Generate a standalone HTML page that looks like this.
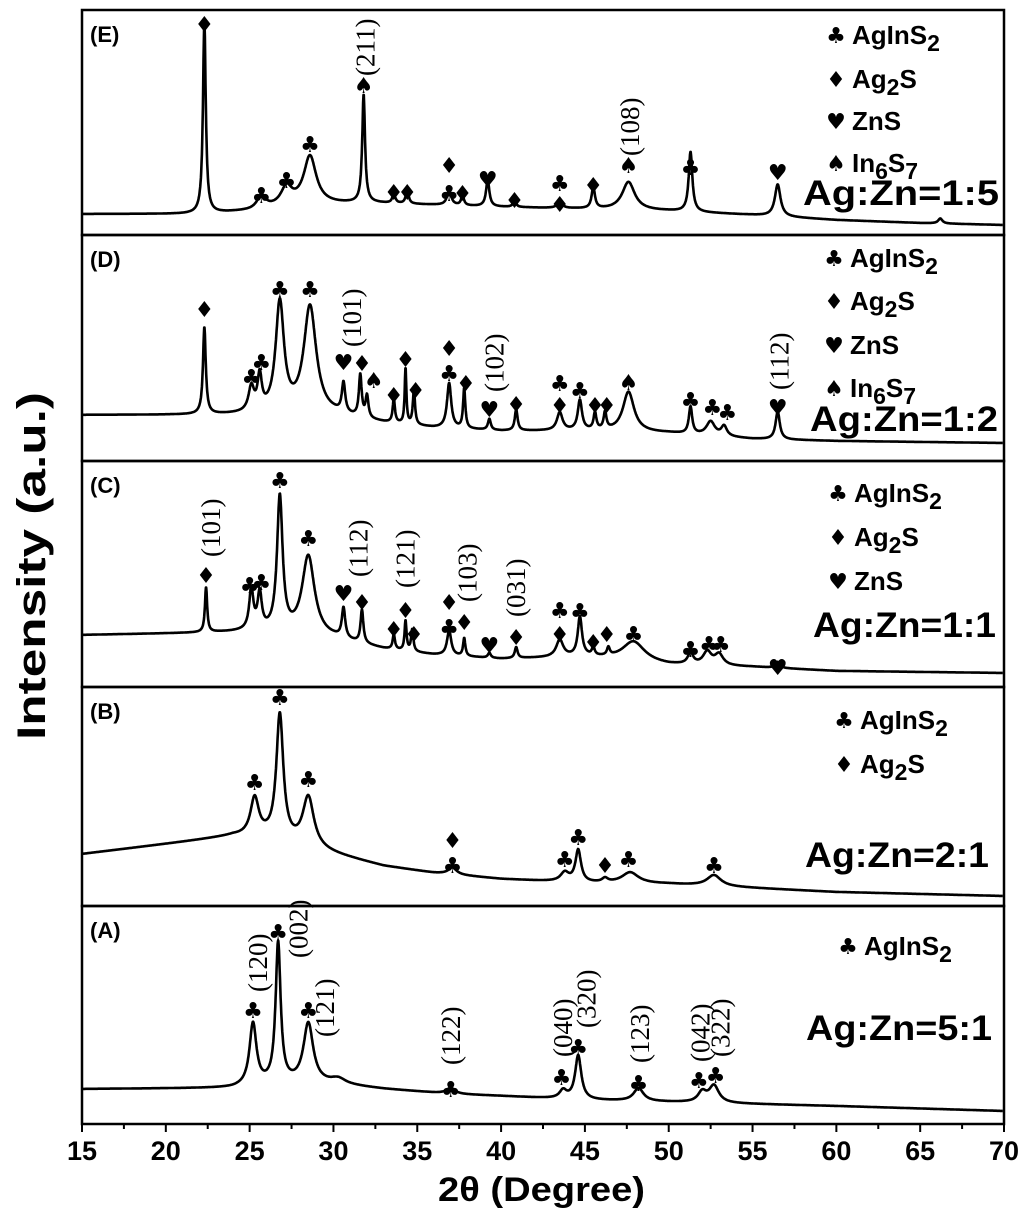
<!DOCTYPE html>
<html><head><meta charset="utf-8">
<style>
html,body{margin:0;padding:0;background:#fff;}
svg{display:block;}
text{font-family:"Liberation Sans",sans-serif;fill:#000;}
.sym{font-family:"DejaVu Sans",sans-serif;font-size:22px;text-anchor:middle;font-weight:bold;}
.hkl{font-family:"Liberation Serif",serif;font-size:27px;}
.leg{font-weight:bold;font-size:26px;}
.ratio{font-weight:bold;font-size:35px;}
.plab{font-weight:bold;font-size:22px;}
.tick{font-weight:bold;font-size:27px;text-anchor:middle;}
</style></head>
<body>
<svg id="chart" width="1024" height="1216" viewBox="0 0 1024 1216" xmlns="http://www.w3.org/2000/svg">
<g id="panels"></g>
<g id="axis"></g>
<text x="438" y="1201" textLength="207" lengthAdjust="spacingAndGlyphs" style="font-weight:bold;font-size:34px">2θ (Degree)</text>
<text transform="translate(45,740) rotate(-90)" textLength="348" lengthAdjust="spacingAndGlyphs" style="font-weight:bold;font-size:40px">Intensity (a.u.)</text>
</svg>
<script>
// ---- data ----
const xTicks = [15,20,25,30,35,40,45,50,55,60,65,70];
const panelNames = ["E","D","C","B","A"];
const panelTops = [10,235,461,687,906];
const panelBottoms = [235,461,687,906,1124];
const ratios = ["Ag:Zn=1:5","Ag:Zn=1:2","Ag:Zn=1:1","Ag:Zn=2:1","Ag:Zn=5:1"];

const baseDegE = [15,22,25,28,32,36,40,45,50,55,60,65,70];
const baseValE = [21,21,24,30,32,30,28,26,24,20,15,12,10];
const peakPosE = [22.3,25.7,27.2,28.6,31.8,33.6,34.4,36.9,37.7,39.2,40.8,43.5,45.5,47.6,51.3,56.5,66.2];
const peakHtE  = [192,13,18,48,108,10,14,15,10,26,7,8,21,28,60,32,5];
const peakWE   = [0.1,0.3,0.4,0.45,0.1,0.1,0.1,0.15,0.1,0.12,0.1,0.15,0.12,0.45,0.13,0.2,0.15];

const baseDegD = [15,24,30,33,36,40,45,50,55,60,70];
const baseValD = [46,46,45,38,33,30,30,28,22,20,18];
const peakPosD = [22.3,25.1,25.6,26.8,28.6,30.6,31.6,32.0,33.6,34.3,34.8,36.9,37.8,39.3,40.9,43.5,44.7,45.6,46.2,47.6,51.3,52.5,53.3,56.5];
const peakHtD  = [87,24,34,110,108,30,42,22,24,56,34,45,40,11,21,18,30,17,17,40,27,14,10,28];
const peakWD   = [0.1,0.2,0.15,0.3,0.45,0.12,0.1,0.1,0.08,0.06,0.08,0.15,0.08,0.1,0.1,0.2,0.15,0.1,0.1,0.4,0.12,0.3,0.2,0.15];

const baseDegC = [15,22,25,30,33,36,40,45,50,55,60,70];
const baseValC = [52,54,55,48,38,32,28,30,22,20,16,14];
const peakPosC = [22.4,25.1,25.6,26.8,28.5,30.6,31.7,33.6,34.3,34.7,36.9,37.8,39.3,40.9,43.5,44.7,45.5,46.4,47.9,51.3,52.3,53.0,56.5];
const peakHtC  = [45,40,36,135,80,30,33,15,30,22,25,18,5,11,17,39,8,8,20,11,13,11,6];
const peakWC   = [0.08,0.15,0.15,0.2,0.45,0.12,0.1,0.08,0.07,0.08,0.15,0.08,0.1,0.1,0.25,0.15,0.1,0.1,0.8,0.2,0.3,0.3,0.15];

const baseDegB = [15,18,22,24,26,30,33,36,40,45,50,55,60,70];
const baseValB = [52,58,66,70,68,52,40,33,27,23,22,18,14,10];
const peakPosB = [25.3,26.8,28.5,37.1,43.8,44.6,46.2,47.7,52.7];
const peakHtB  = [38,125,50,7,9,32,4,11,11];
const peakWB   = [0.3,0.25,0.4,0.3,0.3,0.2,0.2,0.6,0.5];

const baseDegA = [15,24,27,30,33,37,40,45,50,55,60,70];
const baseValA = [35,36,40,40,35,30,28,24,22,20,18,13];
const peakPosA = [25.2,26.7,28.5,30.3,37.0,43.7,44.6,48.2,52.0,52.7];
const peakHtA  = [62,140,60,5,6,8,44,13,10,17];
const peakWA   = [0.25,0.18,0.35,0.5,0.3,0.25,0.22,0.35,0.3,0.35];

const baseDegs=[baseDegE,baseDegD,baseDegC,baseDegB,baseDegA];
const baseVals=[baseValE,baseValD,baseValC,baseValB,baseValA];
const peakPoss=[peakPosE,peakPosD,peakPosC,peakPosB,peakPosA];
const peakHts=[peakHtE,peakHtD,peakHtC,peakHtB,peakHtA];
const peakWs=[peakWE,peakWD,peakWC,peakWB,peakWA];

const symE=[[22.3,24,"♦"],[25.7,195,"♣"],[27.2,180,"♣"],[28.6,144,"♣"],[31.8,85,"♠"],[33.6,192,"♦"],[34.4,192,"♦"],[36.9,165,"♦"],[36.9,193,"♣"],[37.7,193,"♦"],[39.2,179,"♥"],[40.8,200,"♦"],[43.5,183,"♣"],[43.5,204,"♦"],[45.5,185,"♦"],[47.6,165,"♠"],[51.3,167,"♣"],[56.5,172,"♥"]];
const symD=[[22.3,309,"♦"],[25.1,377,"♣"],[25.7,362,"♣"],[26.8,289,"♣"],[28.6,289,"♣"],[30.6,362,"♥"],[31.7,363,"♦"],[32.4,380,"♠"],[33.6,395,"♦"],[34.3,359,"♦"],[34.9,390,"♦"],[36.9,348,"♦"],[36.9,373,"♣"],[37.9,383,"♦"],[39.3,409,"♥"],[40.9,404,"♦"],[43.5,383,"♣"],[43.5,405,"♦"],[44.7,390,"♣"],[45.6,405,"♦"],[46.3,405,"♦"],[47.6,382,"♠"],[51.3,400,"♣"],[52.6,407,"♣"],[53.5,412,"♣"],[56.5,407,"♥"]];
const symC=[[22.4,575,"♦"],[25.0,585,"♣"],[25.7,582,"♣"],[26.8,480,"♣"],[28.5,538,"♣"],[30.6,593,"♥"],[31.7,602,"♦"],[33.6,629,"♦"],[34.3,610,"♦"],[34.8,634,"♦"],[36.9,602,"♦"],[36.9,627,"♣"],[37.8,622,"♦"],[39.3,645,"♥"],[40.9,637,"♦"],[43.5,634,"♦"],[43.5,610,"♣"],[44.7,611,"♣"],[45.5,642,"♦"],[46.3,634,"♦"],[47.9,634,"♣"],[51.3,649,"♣"],[52.4,644,"♣"],[53.1,644,"♣"],[56.5,667,"♥"]];
const symB=[[25.3,782,"♣"],[26.8,697,"♣"],[28.5,779,"♣"],[37.1,840,"♦"],[37.1,865,"♣"],[43.8,859,"♣"],[44.6,837,"♣"],[46.2,865,"♦"],[47.6,859,"♣"],[52.7,865,"♣"]];
const symA=[[25.2,1010,"♣"],[26.7,932,"♣"],[28.5,1010,"♣"],[37.0,1089,"♣"],[43.6,1077,"♣"],[44.6,1047,"♣"],[48.2,1083,"♣"],[51.8,1080,"♣"],[52.8,1075,"♣"]];
const syms=[symE,symD,symC,symB,symA];

const hkls=[
 [[31.9,76,"(211)"],[47.7,156,"(108)"]],
 [[31.1,347,"(101)"],[39.6,392,"(102)"],[56.6,390,"(112)"]],
 [[22.7,557,"(101)"],[31.5,577,"(112)"],[34.3,588,"(121)"],[38.0,602,"(103)"],[40.9,617,"(031)"]],
 [],
 [[25.5,992,"(120)"],[27.9,958,"(002)"],[29.5,1037,"(121)"],[37.0,1065,"(122)"],[43.7,1057,"(040)"],[45.1,1028,"(320)"],[48.3,1063,"(123)"],[51.9,1062,"(042)"],[53.1,1057,"(322)"]]
];

const legends=[
 [[35,"♣","AgInS<tspan baseline-shift='-30%' font-size='23'>2</tspan>"],[79,"♦","Ag<tspan baseline-shift='-30%' font-size='23'>2</tspan>S"],[121,"♥","ZnS"],[163,"♠","In<tspan baseline-shift='-30%' font-size='23'>6</tspan>S<tspan baseline-shift='-30%' font-size='23'>7</tspan>"]],
 [[258,"♣","AgInS<tspan baseline-shift='-30%' font-size='23'>2</tspan>"],[301,"♦","Ag<tspan baseline-shift='-30%' font-size='23'>2</tspan>S"],[345,"♥","ZnS"],[388,"♠","In<tspan baseline-shift='-30%' font-size='23'>6</tspan>S<tspan baseline-shift='-30%' font-size='23'>7</tspan>"]],
 [[493,"♣","AgInS<tspan baseline-shift='-30%' font-size='23'>2</tspan>"],[537,"♦","Ag<tspan baseline-shift='-30%' font-size='23'>2</tspan>S"],[581,"♥","ZnS"]],
 [[720,"♣","AgInS<tspan baseline-shift='-30%' font-size='23'>2</tspan>"],[764,"♦","Ag<tspan baseline-shift='-30%' font-size='23'>2</tspan>S"]],
 [[946,"♣","AgInS<tspan baseline-shift='-30%' font-size='23'>2</tspan>"]]
];
const legendX=[836,834,838,844,848];
const ratioPos=[[803,205],[810,431],[813,637],[805,867],[806,1040]];
const ratioW=[196,188,183,184,186];

const X0=82, X1=1004, D0=15, D1=70;
function xs(d){return X0+(d-D0)*(X1-X0)/(D1-D0);}
function interp(xa,ya,x){for(let i=0;i<xa.length-1;i++){if(x<=xa[i+1]){const t=(x-xa[i])/(xa[i+1]-xa[i]);return ya[i]+t*(ya[i+1]-ya[i]);}}return ya[ya.length-1];}
function intensity(p,x){let v=interp(baseDegs[p],baseVals[p],x);const P=peakPoss[p],H=peakHts[p],W=peakWs[p];for(let i=0;i<P.length;i++){const u=(x-P[i])/W[i];v+=H[i]/(1+u*u);}return v;}
function ys(p,v){return panelBottoms[p]-v;}

const NS="http://www.w3.org/2000/svg";
const G=document.getElementById("panels");
function mk(tag,attrs,parent){const e=document.createElementNS(NS,tag);for(const k in attrs)e.setAttribute(k,attrs[k]);(parent||G).appendChild(e);return e;}

for(let p=0;p<5;p++){
  const g=mk("g",{});
  
  
  const r=mk("rect",{x:X0,y:panelTops[p],width:X1-X0,height:panelBottoms[p]-panelTops[p],fill:"none",stroke:"#000","stroke-width":2.5},g);
  
  
  let d="";
  for(let x=15.05;x<=69.95;x+=0.02){d+=(d?"L":"M")+xs(x).toFixed(1)+","+ys(p,intensity(p,x)).toFixed(1);}
  const path=mk("path",{d:d,fill:"none",stroke:"#000","stroke-width":2.6,"stroke-linejoin":"round"},g);
  
  
  const pl=mk("text",{x:X0+8,y:panelTops[p]+32,class:"plab"},g);
  pl.textContent="("+panelNames[p]+")";
  
  
  for(const s of syms[p]){
    const t=mk("text",{x:xs(s[0]),y:s[1]+8,class:"sym"},g);
    t.textContent=s[2];
    
    
  }
  for(const h of hkls[p]){
    const t=mk("text",{transform:"translate("+(xs(h[0])+9)+","+h[1]+") rotate(-90)",class:"hkl"},g);
    t.textContent=h[2];
    
    
  }
  for(const l of legends[p]){
    const s=mk("text",{x:legendX[p],y:l[0]+8,class:"sym"},g);
    s.textContent=l[1];
    
    
    const t=mk("text",{x:legendX[p]+16,y:l[0]+9,class:"leg"},g);
    t.innerHTML=l[2];
    
    
  }
  const rt=mk("text",{x:ratioPos[p][0],y:ratioPos[p][1],class:"ratio",textLength:ratioW[p],lengthAdjust:"spacingAndGlyphs"},g);
  rt.textContent=ratios[p];
  
  
}

const A=document.getElementById("axis");
for(let i=0;i<xTicks.length;i++){
  const x=xs(xTicks[i]);
  const tk=mk("line",{x1:x,x2:x,y1:1124,y2:1132,stroke:"#000","stroke-width":2},A);
  
  
  const t=mk("text",{x:x,y:1160,class:"tick"},A);
  t.textContent=xTicks[i];
  
  
  if(i<xTicks.length-1){
    const xm=xs(xTicks[i]+2.5);
    const mt=mk("line",{x1:xm,x2:xm,y1:1124,y2:1129,stroke:"#000","stroke-width":2},A);
    
    
  }
}
</script>
</body></html>
